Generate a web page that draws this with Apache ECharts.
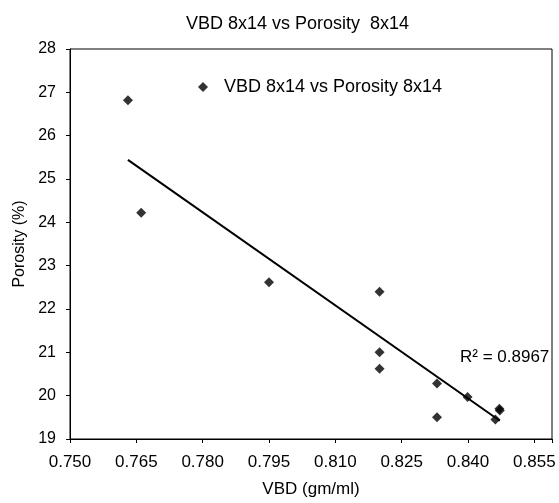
<!DOCTYPE html>
<html><head><meta charset="utf-8">
<script src="https://cdn.jsdelivr.net/npm/echarts@6/dist/echarts.min.js"></script>
<style>html,body{margin:0;padding:0;background:#fff}#c{width:559px;height:503px}</style>
</head><body><div id="c"></div>
<script>
const titleText = "VBD 8x14 vs Porosity  8x14";
const seriesName = "VBD 8x14 vs Porosity 8x14";
const vbd = [0.7631, 0.7661, 0.7950, 0.8200, 0.8200, 0.8200, 0.8330, 0.8330, 0.8399, 0.8471, 0.8472, 0.8462];
const porosity = [26.82, 24.22, 22.62, 22.40, 21.00, 20.62, 20.28, 19.50, 19.97, 19.70, 19.66, 19.45];
const trendX = [0.7631, 0.8472];
const trendY = [25.44, 19.42];
const r2Text = "R² = 0.8967";
const xTicks = [0.750, 0.765, 0.780, 0.795, 0.810, 0.825, 0.840, 0.855];
const yTicks = [19, 20, 21, 22, 23, 24, 25, 26, 27, 28];

const font = "Liberation Sans, Arial, sans-serif";
const chart = echarts.init(document.getElementById('c'), null, {renderer:'canvas'});
chart.setOption({
  animation:false,
  backgroundColor:'#fff',
  title:{text:titleText,left:181,top:10,textStyle:{fontFamily:font,fontSize:18,fontWeight:'normal',color:'#000'}},
  legend:{data:[{name:seriesName,icon:'diamond'}],left:193,top:73,itemWidth:10,itemHeight:10,
    textStyle:{fontFamily:font,fontSize:18,color:'#000',padding:[0,0,0,11]}},
  grid:{left:70,right:7,top:49,bottom:59,show:true,borderColor:'#000',borderWidth:1},
  xAxis:{type:'value',min:0.750,max:0.859,interval:0.015,name:'VBD (gm/ml)',nameLocation:'middle',nameGap:42,
    nameTextStyle:{fontFamily:font,fontSize:17,color:'#000'},
    axisLine:{lineStyle:{color:'#000'}},axisTick:{show:true,length:4,lineStyle:{color:'#000'}},
    splitLine:{show:false},
    axisLabel:{fontFamily:font,fontSize:17,color:'#000',margin:15,showMaxLabel:true,
      formatter:v=>xTicks.some(t=>Math.abs(t-v)<1e-6)?v.toFixed(3):''}},
  yAxis:{type:'value',min:19,max:28,interval:1,name:'Porosity (%)',nameLocation:'middle',nameGap:42,
    nameTextStyle:{fontFamily:font,fontSize:16,color:'#000'},
    axisLine:{lineStyle:{color:'#000'}},axisTick:{show:true,length:4,lineStyle:{color:'#000'}},
    splitLine:{show:false},
    axisLabel:{fontFamily:font,fontSize:16,color:'#000',margin:14,
      formatter:v=>yTicks.includes(v)?String(v):''}},
  series:[
    {name:seriesName,type:'scatter',symbol:'diamond',symbolSize:10,itemStyle:{color:'#000'},
      data:vbd.map((x,i)=>[x,porosity[i]]),z:3},
    {name:'trend',type:'line',symbol:'none',lineStyle:{color:'#000',width:2},
      data:trendX.map((x,i)=>[x,trendY[i]]),z:2}
  ],
  graphic:[{type:'text',left:460,top:349,style:{text:r2Text,font:'17px '+font,fill:'#000'}}]
});
</script></body></html>
